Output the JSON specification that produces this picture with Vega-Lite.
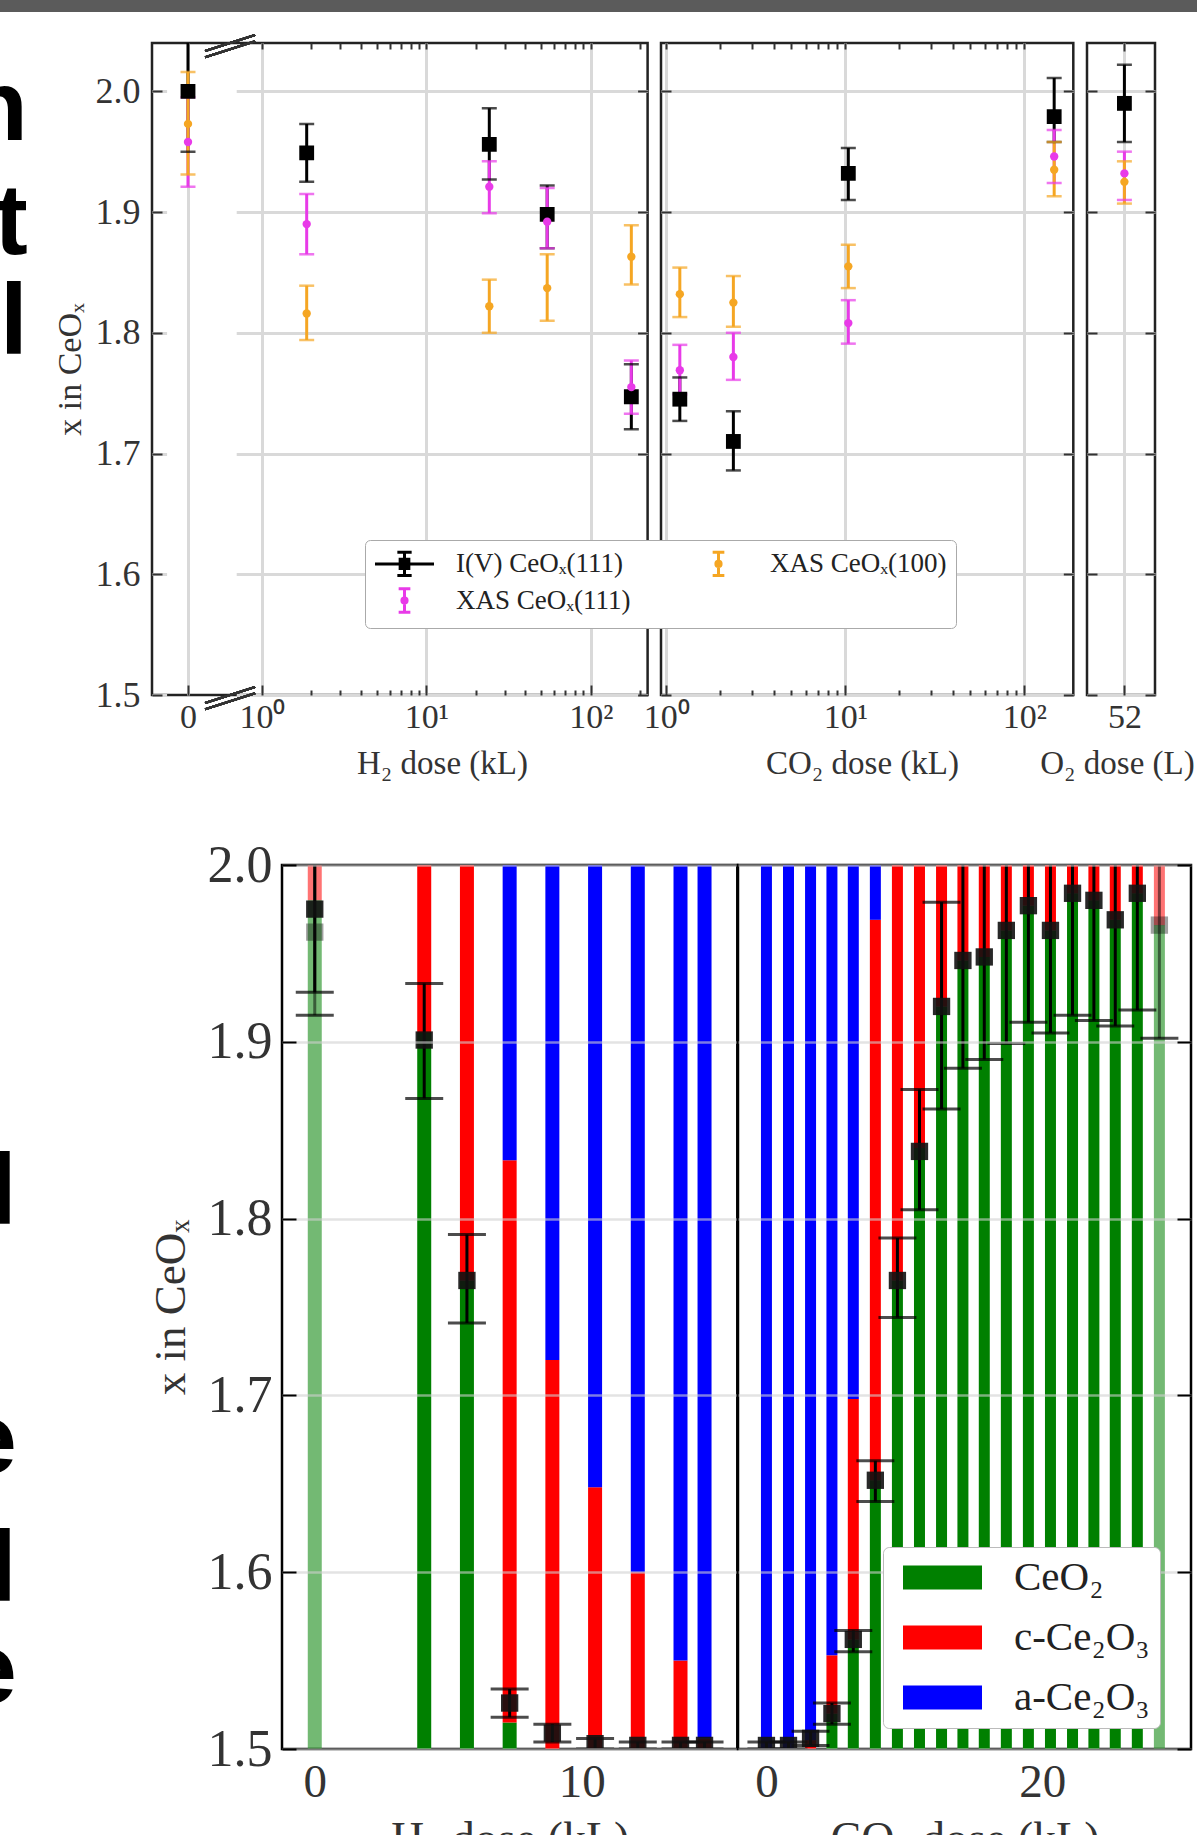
{
  "$schema": "https://vega.github.io/schema/vega-lite/v6.json",
  "background": "white",
  "padding": 0,
  "config": {
    "font": "Liberation Serif",
    "view": {"stroke": "#222222", "strokeWidth": 2.5},
    "axis": {"domain": false, "tickColor": "#333333", "tickWidth": 2, "labelColor": "#333333", "titleColor": "#333333", "titleFontWeight": "normal", "labelFont": "Liberation Serif", "titleFont": "Liberation Serif", "gridColor": "#d9d9d9", "gridWidth": 3},
    "legend": {"labelFont": "Liberation Serif", "labelColor": "#222222", "labelLimit": 400}
  },
  "datasets": {
    "top": [
      {"gas": "H2", "dose": 0, "series": "I(V) CeOₓ(111)", "v": 2.000, "lo": 1.950, "hi": 2.050},
      {"gas": "H2", "dose": 0, "series": "XAS CeOₓ(111)", "v": 1.958, "lo": 1.921, "hi": 1.995},
      {"gas": "H2", "dose": 0, "series": "XAS CeOₓ(100)", "v": 1.973, "lo": 1.931, "hi": 2.016},
      {"gas": "H2", "dose": 1.87, "series": "I(V) CeOₓ(111)", "v": 1.949, "lo": 1.925, "hi": 1.973},
      {"gas": "H2", "dose": 1.87, "series": "XAS CeOₓ(111)", "v": 1.890, "lo": 1.865, "hi": 1.915},
      {"gas": "H2", "dose": 1.87, "series": "XAS CeOₓ(100)", "v": 1.816, "lo": 1.794, "hi": 1.839},
      {"gas": "H2", "dose": 24.1, "series": "I(V) CeOₓ(111)", "v": 1.956, "lo": 1.927, "hi": 1.986},
      {"gas": "H2", "dose": 24.1, "series": "XAS CeOₓ(111)", "v": 1.921, "lo": 1.899, "hi": 1.942},
      {"gas": "H2", "dose": 24.1, "series": "XAS CeOₓ(100)", "v": 1.822, "lo": 1.800, "hi": 1.844},
      {"gas": "H2", "dose": 54.2, "series": "I(V) CeOₓ(111)", "v": 1.898, "lo": 1.870, "hi": 1.922},
      {"gas": "H2", "dose": 54.2, "series": "XAS CeOₓ(111)", "v": 1.892, "lo": 1.870, "hi": 1.920},
      {"gas": "H2", "dose": 54.2, "series": "XAS CeOₓ(100)", "v": 1.837, "lo": 1.810, "hi": 1.865},
      {"gas": "H2", "dose": 176, "series": "I(V) CeOₓ(111)", "v": 1.747, "lo": 1.720, "hi": 1.774},
      {"gas": "H2", "dose": 176, "series": "XAS CeOₓ(111)", "v": 1.755, "lo": 1.733, "hi": 1.777},
      {"gas": "H2", "dose": 176, "series": "XAS CeOₓ(100)", "v": 1.863, "lo": 1.840, "hi": 1.889},
      {"gas": "CO2", "dose": 1.19, "series": "I(V) CeOₓ(111)", "v": 1.745, "lo": 1.727, "hi": 1.763},
      {"gas": "CO2", "dose": 1.19, "series": "XAS CeOₓ(111)", "v": 1.769, "lo": 1.749, "hi": 1.790},
      {"gas": "CO2", "dose": 1.19, "series": "XAS CeOₓ(100)", "v": 1.832, "lo": 1.813, "hi": 1.854},
      {"gas": "CO2", "dose": 2.37, "series": "I(V) CeOₓ(111)", "v": 1.710, "lo": 1.686, "hi": 1.735},
      {"gas": "CO2", "dose": 2.37, "series": "XAS CeOₓ(111)", "v": 1.780, "lo": 1.761, "hi": 1.800},
      {"gas": "CO2", "dose": 2.37, "series": "XAS CeOₓ(100)", "v": 1.825, "lo": 1.805, "hi": 1.847},
      {"gas": "CO2", "dose": 10.4, "series": "I(V) CeOₓ(111)", "v": 1.932, "lo": 1.910, "hi": 1.953},
      {"gas": "CO2", "dose": 10.4, "series": "XAS CeOₓ(111)", "v": 1.808, "lo": 1.791, "hi": 1.827},
      {"gas": "CO2", "dose": 10.4, "series": "XAS CeOₓ(100)", "v": 1.855, "lo": 1.837, "hi": 1.873},
      {"gas": "CO2", "dose": 147, "series": "I(V) CeOₓ(111)", "v": 1.979, "lo": 1.958, "hi": 2.011},
      {"gas": "CO2", "dose": 147, "series": "XAS CeOₓ(111)", "v": 1.946, "lo": 1.924, "hi": 1.968},
      {"gas": "CO2", "dose": 147, "series": "XAS CeOₓ(100)", "v": 1.935, "lo": 1.913, "hi": 1.958},
      {"gas": "O2", "dose": 52, "series": "I(V) CeOₓ(111)", "v": 1.990, "lo": 1.958, "hi": 2.022},
      {"gas": "O2", "dose": 52, "series": "XAS CeOₓ(111)", "v": 1.932, "lo": 1.910, "hi": 1.950},
      {"gas": "O2", "dose": 52, "series": "XAS CeOₓ(100)", "v": 1.925, "lo": 1.907, "hi": 1.942}
    ],
    "bars": [
      {"gas": "H2", "dose": 0, "phase": "CeO₂", "lo": 1.5, "hi": 1.98, "ref": true},
      {"gas": "H2", "dose": 0, "phase": "c-Ce₂O₃", "lo": 1.98, "hi": 2.0, "ref": true},
      {"gas": "H2", "dose": 4.1, "phase": "CeO₂", "lo": 1.5, "hi": 1.905, "ref": false},
      {"gas": "H2", "dose": 4.1, "phase": "c-Ce₂O₃", "lo": 1.905, "hi": 2.0, "ref": false},
      {"gas": "H2", "dose": 5.7, "phase": "CeO₂", "lo": 1.5, "hi": 1.765, "ref": false},
      {"gas": "H2", "dose": 5.7, "phase": "c-Ce₂O₃", "lo": 1.765, "hi": 2.0, "ref": false},
      {"gas": "H2", "dose": 7.3, "phase": "CeO₂", "lo": 1.5, "hi": 1.515, "ref": false},
      {"gas": "H2", "dose": 7.3, "phase": "c-Ce₂O₃", "lo": 1.515, "hi": 1.833, "ref": false},
      {"gas": "H2", "dose": 7.3, "phase": "a-Ce₂O₃", "lo": 1.833, "hi": 2.0, "ref": false},
      {"gas": "H2", "dose": 8.9, "phase": "c-Ce₂O₃", "lo": 1.5, "hi": 1.72, "ref": false},
      {"gas": "H2", "dose": 8.9, "phase": "a-Ce₂O₃", "lo": 1.72, "hi": 2.0, "ref": false},
      {"gas": "H2", "dose": 10.5, "phase": "c-Ce₂O₃", "lo": 1.5, "hi": 1.648, "ref": false},
      {"gas": "H2", "dose": 10.5, "phase": "a-Ce₂O₃", "lo": 1.648, "hi": 2.0, "ref": false},
      {"gas": "H2", "dose": 12.1, "phase": "c-Ce₂O₃", "lo": 1.5, "hi": 1.6, "ref": false},
      {"gas": "H2", "dose": 12.1, "phase": "a-Ce₂O₃", "lo": 1.6, "hi": 2.0, "ref": false},
      {"gas": "H2", "dose": 13.7, "phase": "c-Ce₂O₃", "lo": 1.5, "hi": 1.55, "ref": false},
      {"gas": "H2", "dose": 13.7, "phase": "a-Ce₂O₃", "lo": 1.55, "hi": 2.0, "ref": false},
      {"gas": "H2", "dose": 14.6, "phase": "c-Ce₂O₃", "lo": 1.5, "hi": 1.506, "ref": false},
      {"gas": "H2", "dose": 14.6, "phase": "a-Ce₂O₃", "lo": 1.506, "hi": 2.0, "ref": false},
      {"gas": "CO2", "dose": 0, "phase": "a-Ce₂O₃", "lo": 1.5, "hi": 2.0, "ref": false},
      {"gas": "CO2", "dose": 1.6, "phase": "a-Ce₂O₃", "lo": 1.5, "hi": 2.0, "ref": false},
      {"gas": "CO2", "dose": 3.2, "phase": "c-Ce₂O₃", "lo": 1.5, "hi": 1.505, "ref": false},
      {"gas": "CO2", "dose": 3.2, "phase": "a-Ce₂O₃", "lo": 1.505, "hi": 2.0, "ref": false},
      {"gas": "CO2", "dose": 4.75, "phase": "CeO₂", "lo": 1.5, "hi": 1.52, "ref": false},
      {"gas": "CO2", "dose": 4.75, "phase": "c-Ce₂O₃", "lo": 1.52, "hi": 1.553, "ref": false},
      {"gas": "CO2", "dose": 4.75, "phase": "a-Ce₂O₃", "lo": 1.553, "hi": 2.0, "ref": false},
      {"gas": "CO2", "dose": 6.3, "phase": "CeO₂", "lo": 1.5, "hi": 1.562, "ref": false},
      {"gas": "CO2", "dose": 6.3, "phase": "c-Ce₂O₃", "lo": 1.562, "hi": 1.698, "ref": false},
      {"gas": "CO2", "dose": 6.3, "phase": "a-Ce₂O₃", "lo": 1.698, "hi": 2.0, "ref": false},
      {"gas": "CO2", "dose": 7.9, "phase": "CeO₂", "lo": 1.5, "hi": 1.652, "ref": false},
      {"gas": "CO2", "dose": 7.9, "phase": "c-Ce₂O₃", "lo": 1.652, "hi": 1.969, "ref": false},
      {"gas": "CO2", "dose": 7.9, "phase": "a-Ce₂O₃", "lo": 1.969, "hi": 2.0, "ref": false},
      {"gas": "CO2", "dose": 9.5, "phase": "CeO₂", "lo": 1.5, "hi": 1.765, "ref": false},
      {"gas": "CO2", "dose": 9.5, "phase": "c-Ce₂O₃", "lo": 1.765, "hi": 2.0, "ref": false},
      {"gas": "CO2", "dose": 11.1, "phase": "CeO₂", "lo": 1.5, "hi": 1.84, "ref": false},
      {"gas": "CO2", "dose": 11.1, "phase": "c-Ce₂O₃", "lo": 1.84, "hi": 2.0, "ref": false},
      {"gas": "CO2", "dose": 12.7, "phase": "CeO₂", "lo": 1.5, "hi": 1.92, "ref": false},
      {"gas": "CO2", "dose": 12.7, "phase": "c-Ce₂O₃", "lo": 1.92, "hi": 2.0, "ref": false},
      {"gas": "CO2", "dose": 14.25, "phase": "CeO₂", "lo": 1.5, "hi": 1.946, "ref": false},
      {"gas": "CO2", "dose": 14.25, "phase": "c-Ce₂O₃", "lo": 1.946, "hi": 2.0, "ref": false},
      {"gas": "CO2", "dose": 15.8, "phase": "CeO₂", "lo": 1.5, "hi": 1.948, "ref": false},
      {"gas": "CO2", "dose": 15.8, "phase": "c-Ce₂O₃", "lo": 1.948, "hi": 2.0, "ref": false},
      {"gas": "CO2", "dose": 17.4, "phase": "CeO₂", "lo": 1.5, "hi": 1.963, "ref": false},
      {"gas": "CO2", "dose": 17.4, "phase": "c-Ce₂O₃", "lo": 1.963, "hi": 2.0, "ref": false},
      {"gas": "CO2", "dose": 19.0, "phase": "CeO₂", "lo": 1.5, "hi": 1.977, "ref": false},
      {"gas": "CO2", "dose": 19.0, "phase": "c-Ce₂O₃", "lo": 1.977, "hi": 2.0, "ref": false},
      {"gas": "CO2", "dose": 20.6, "phase": "CeO₂", "lo": 1.5, "hi": 1.963, "ref": false},
      {"gas": "CO2", "dose": 20.6, "phase": "c-Ce₂O₃", "lo": 1.963, "hi": 2.0, "ref": false},
      {"gas": "CO2", "dose": 22.2, "phase": "CeO₂", "lo": 1.5, "hi": 1.984, "ref": false},
      {"gas": "CO2", "dose": 22.2, "phase": "c-Ce₂O₃", "lo": 1.984, "hi": 2.0, "ref": false},
      {"gas": "CO2", "dose": 23.75, "phase": "CeO₂", "lo": 1.5, "hi": 1.98, "ref": false},
      {"gas": "CO2", "dose": 23.75, "phase": "c-Ce₂O₃", "lo": 1.98, "hi": 2.0, "ref": false},
      {"gas": "CO2", "dose": 25.3, "phase": "CeO₂", "lo": 1.5, "hi": 1.969, "ref": false},
      {"gas": "CO2", "dose": 25.3, "phase": "c-Ce₂O₃", "lo": 1.969, "hi": 2.0, "ref": false},
      {"gas": "CO2", "dose": 26.9, "phase": "CeO₂", "lo": 1.5, "hi": 1.984, "ref": false},
      {"gas": "CO2", "dose": 26.9, "phase": "c-Ce₂O₃", "lo": 1.984, "hi": 2.0, "ref": false},
      {"gas": "CO2", "dose": 28.5, "phase": "CeO₂", "lo": 1.5, "hi": 1.966, "ref": true},
      {"gas": "CO2", "dose": 28.5, "phase": "c-Ce₂O₃", "lo": 1.966, "hi": 2.0, "ref": true}
    ],
    "pts": [
      {"gas": "H2", "dose": 0, "v": 1.962, "lo": 1.915, "hi": 2.01, "ref": true},
      {"gas": "H2", "dose": 0, "v": 1.975, "lo": 1.928, "hi": 2.02, "ref": false},
      {"gas": "H2", "dose": 4.1, "v": 1.901, "lo": 1.868, "hi": 1.933, "ref": false},
      {"gas": "H2", "dose": 5.7, "v": 1.765, "lo": 1.741, "hi": 1.791, "ref": false},
      {"gas": "H2", "dose": 7.3, "v": 1.526, "lo": 1.518, "hi": 1.534, "ref": false},
      {"gas": "H2", "dose": 8.9, "v": 1.509, "lo": 1.504, "hi": 1.514, "ref": false},
      {"gas": "H2", "dose": 10.5, "v": 1.503, "lo": 1.500, "hi": 1.506, "ref": false},
      {"gas": "H2", "dose": 12.1, "v": 1.502, "lo": 1.500, "hi": 1.504, "ref": false},
      {"gas": "H2", "dose": 13.7, "v": 1.502, "lo": 1.500, "hi": 1.504, "ref": false},
      {"gas": "H2", "dose": 14.6, "v": 1.502, "lo": 1.500, "hi": 1.504, "ref": false},
      {"gas": "CO2", "dose": 0, "v": 1.502, "lo": 1.500, "hi": 1.504, "ref": false},
      {"gas": "CO2", "dose": 1.6, "v": 1.502, "lo": 1.500, "hi": 1.504, "ref": false},
      {"gas": "CO2", "dose": 3.2, "v": 1.506, "lo": 1.502, "hi": 1.510, "ref": false},
      {"gas": "CO2", "dose": 4.75, "v": 1.520, "lo": 1.514, "hi": 1.526, "ref": false},
      {"gas": "CO2", "dose": 6.3, "v": 1.562, "lo": 1.555, "hi": 1.567, "ref": false},
      {"gas": "CO2", "dose": 7.9, "v": 1.652, "lo": 1.640, "hi": 1.663, "ref": false},
      {"gas": "CO2", "dose": 9.5, "v": 1.765, "lo": 1.744, "hi": 1.789, "ref": false},
      {"gas": "CO2", "dose": 11.1, "v": 1.838, "lo": 1.805, "hi": 1.873, "ref": false},
      {"gas": "CO2", "dose": 12.7, "v": 1.920, "lo": 1.862, "hi": 1.979, "ref": false},
      {"gas": "CO2", "dose": 14.25, "v": 1.946, "lo": 1.885, "hi": 2.01, "ref": false},
      {"gas": "CO2", "dose": 15.8, "v": 1.948, "lo": 1.890, "hi": 2.01, "ref": false},
      {"gas": "CO2", "dose": 17.4, "v": 1.963, "lo": 1.899, "hi": 2.03, "ref": false},
      {"gas": "CO2", "dose": 19.0, "v": 1.977, "lo": 1.911, "hi": 2.04, "ref": false},
      {"gas": "CO2", "dose": 20.6, "v": 1.963, "lo": 1.905, "hi": 2.02, "ref": false},
      {"gas": "CO2", "dose": 22.2, "v": 1.984, "lo": 1.915, "hi": 2.05, "ref": false},
      {"gas": "CO2", "dose": 23.75, "v": 1.980, "lo": 1.912, "hi": 2.05, "ref": false},
      {"gas": "CO2", "dose": 25.3, "v": 1.969, "lo": 1.909, "hi": 2.03, "ref": false},
      {"gas": "CO2", "dose": 26.9, "v": 1.984, "lo": 1.918, "hi": 2.05, "ref": false},
      {"gas": "CO2", "dose": 28.5, "v": 1.966, "lo": 1.902, "hi": 2.03, "ref": true}
    ],
    "glyphTop": [
      {"ch": "n", "line": 1},
      {"ch": "t", "line": 2.09},
      {"ch": "l", "line": 3.05}
    ],
    "glyphBot": [
      {"ch": "l", "line": 1.06},
      {"ch": "e", "line": 3},
      {"ch": "l", "line": 4},
      {"ch": "e", "line": 4.79}
    ]
  },
  "spacing": 17,
  "vconcat": [
    {
      "width": 1197, "height": 12,
      "view": {"fill": "#5b5b5b", "stroke": null},
      "data": {"values": [{}]},
      "mark": {"type": "point", "opacity": 0}
    },
    {
      "bounds": "flush",
      "spacing": 13,
      "hconcat": [
        {
          "width": 138.7, "height": 652,
          "view": {"stroke": null},
          "data": {"name": "glyphTop"},
          "mark": {"type": "text", "font": "Liberation Sans", "fontWeight": "bold", "fontSize": 100, "align": "right", "baseline": "alphabetic", "clip": true, "color": "#000000"},
          "encoding": {
            "x": {"datum": 0.2, "type": "quantitative", "scale": {"domain": [0, 1], "nice": false, "zero": false}, "axis": null},
            "y": {"field": "line", "type": "quantitative", "scale": {"domain": [0.0718, 6.311], "reverse": true, "nice": false, "zero": false}, "axis": null},
            "text": {"field": "ch"}
          }
        },
        {
          "width": 495.6, "height": 652,
          "data": {"name": "top"},
          "resolve": {"scale": {"x": "independent", "y": "independent"}},
          "layer": [
            {
              "transform": [{"filter": "datum.gas == 'H2' && datum.dose == 0"}],
              "encoding": {"x": {"field": "dose", "type": "quantitative", "scale": {"domain": [-1, 12.77], "nice": false, "zero": false}, "axis": {"orient": "bottom", "values": [0], "format": "d", "title": null, "grid": true, "tickSize": -10, "labelFontSize": 34, "labelPadding": 15}}},
              "layer": [
                {"mark": {"type": "rule", "strokeWidth": 3, "clip": true},
                 "encoding": {"y": {"field": "lo", "type": "quantitative", "scale": {"domain": [1.5, 2.04], "nice": false, "zero": false}, "axis": {"orient": "left", "title": "x in CeOₓ", "values": [1.5, 1.6, 1.7, 1.8, 1.9, 2.0], "format": ".1f", "labelFontSize": 36, "labelPadding": 22, "tickSize": -10, "grid": true, "gridDash": [14.6, 69.6, 1000, 0], "titleFontSize": 34, "titlePadding": 8}},
                   "y2": {"field": "hi"},
                   "color": {"field": "series", "type": "nominal", "scale": {"domain": ["XAS CeOₓ(111)", "XAS CeOₓ(100)", "I(V) CeOₓ(111)"], "range": ["#e83ae8", "#f5a623", "#000000"]}, "legend": null}}},
                {"mark": {"type": "tick", "orient": "horizontal", "size": 15, "thickness": 2.5, "clip": true},
                 "encoding": {"y": {"field": "lo", "type": "quantitative"}, "color": {"field": "series", "type": "nominal", "legend": null}}},
                {"mark": {"type": "tick", "orient": "horizontal", "size": 15, "thickness": 2.5, "clip": true},
                 "encoding": {"y": {"field": "hi", "type": "quantitative"}, "color": {"field": "series", "type": "nominal", "legend": null}}},
                {"transform": [{"filter": "datum.series == 'I(V) CeOₓ(111)'"}],
                 "mark": {"type": "square", "size": 220, "color": "#000000", "opacity": 1, "clip": true},
                 "encoding": {"y": {"field": "v", "type": "quantitative"}}},
                {"transform": [{"filter": "datum.series != 'I(V) CeOₓ(111)'"}],
                 "mark": {"type": "circle", "size": 70, "opacity": 1, "clip": true},
                 "encoding": {"y": {"field": "v", "type": "quantitative"}, "color": {"field": "series", "type": "nominal", "legend": null}}},
                {"mark": {"type": "point", "opacity": 0, "filled": false},
                 "encoding": {
                   "y": {"field": "v", "type": "quantitative"},
                   "stroke": {"field": "series", "type": "nominal", "scale": {"domain": ["I(V) CeOₓ(111)", "XAS CeOₓ(111)", "XAS CeOₓ(100)"], "range": ["#000000", "#e83ae8", "#f5a623"]},
                     "legend": {"orient": "none", "legendX": 365, "legendY": 540, "title": null, "columns": 2, "symbolSize": 676, "symbolStrokeWidth": 3, "symbolOpacity": 1, "labelFontSize": 27, "labelOffset": 37, "symbolOffset": 16, "columnPadding": 57, "rowPadding": 0, "padding": 9, "fillColor": "#ffffff", "strokeColor": "#aaaaaa", "cornerRadius": 5}},
                   "shape": {"field": "series", "type": "nominal", "scale": {"domain": ["I(V) CeOₓ(111)", "XAS CeOₓ(111)", "XAS CeOₓ(100)"], "range": ["M-2.27,0H2.27M0,-0.9V0.9M-0.55,-0.9H0.55M-0.55,0.9H0.55M-0.45,-0.36H0.45M-0.45,-0.12H0.45M-0.45,0.12H0.45M-0.45,0.36H0.45", "M0,-0.9V0.9M-0.45,-0.9H0.45M-0.45,0.9H0.45M-0.2,0A0.2,0.2,0,1,0,0.2,0A0.2,0.2,0,1,0,-0.2,0", "M0,-0.9V0.9M-0.45,-0.9H0.45M-0.45,0.9H0.45M-0.2,0A0.2,0.2,0,1,0,0.2,0A0.2,0.2,0,1,0,-0.2,0"]},
                     "legend": {"orient": "none", "legendX": 365, "legendY": 540, "title": null, "columns": 2, "symbolSize": 676, "symbolStrokeWidth": 3, "symbolOpacity": 1, "labelFontSize": 27, "labelOffset": 37, "symbolOffset": 16, "columnPadding": 57, "rowPadding": 0, "padding": 9, "fillColor": "#ffffff", "strokeColor": "#aaaaaa", "cornerRadius": 5}}
                 }}
              ]
            },
            {
              "transform": [{"filter": "datum.gas == 'H2' && datum.dose > 0"}],
              "encoding": {"x": {"field": "dose", "type": "quantitative", "scale": {"type": "log", "domain": [0.2145, 221], "nice": false}, "axis": {"orient": "bottom", "values": [1, 10, 100], "labelExpr": "datum.value == 1 ? '10⁰' : datum.value == 10 ? '10¹' : '10²'", "title": "H₂ dose (kL)", "titleX": 290, "titleY": 52, "titleBaseline": "top", "titleFontSize": 33, "grid": true, "tickSize": -10, "labelFontSize": 34, "labelPadding": 15}}},
              "layer": [
                {"mark": {"type": "rule", "strokeWidth": 3, "clip": true},
                 "encoding": {"y": {"field": "lo", "type": "quantitative", "scale": {"domain": [1.5, 2.04], "nice": false, "zero": false}, "axis": null}, "y2": {"field": "hi"}, "color": {"field": "series", "type": "nominal", "legend": null}}},
                {"mark": {"type": "tick", "orient": "horizontal", "size": 15, "thickness": 2.5, "clip": true},
                 "encoding": {"y": {"field": "lo", "type": "quantitative", "axis": null}, "color": {"field": "series", "type": "nominal", "legend": null}}},
                {"mark": {"type": "tick", "orient": "horizontal", "size": 15, "thickness": 2.5, "clip": true},
                 "encoding": {"y": {"field": "hi", "type": "quantitative", "axis": null}, "color": {"field": "series", "type": "nominal", "legend": null}}},
                {"transform": [{"filter": "datum.series == 'I(V) CeOₓ(111)'"}],
                 "mark": {"type": "square", "size": 220, "color": "#000000", "opacity": 1, "clip": true},
                 "encoding": {"y": {"field": "v", "type": "quantitative", "axis": null}}},
                {"transform": [{"filter": "datum.series != 'I(V) CeOₓ(111)'"}],
                 "mark": {"type": "circle", "size": 70, "opacity": 1, "clip": true},
                 "encoding": {"y": {"field": "v", "type": "quantitative", "axis": null}, "color": {"field": "series", "type": "nominal", "legend": null}}},
                {"mark": {"type": "point", "shape": "M-1,0.32L1,-0.32M-1,0.57L1,-0.07", "size": 2500, "stroke": "#333333", "strokeWidth": 2, "filled": false, "opacity": 1, "clip": false},
                 "encoding": {"x": {"datum": 0.64, "type": "quantitative"}, "y": {"datum": 1.5, "type": "quantitative", "axis": null}}},
                {"mark": {"type": "point", "shape": "M-1,0.32L1,-0.32M-1,0.57L1,-0.07", "size": 2500, "stroke": "#333333", "strokeWidth": 2, "filled": false, "opacity": 1, "clip": false},
                 "encoding": {"x": {"datum": 0.64, "type": "quantitative"}, "y": {"datum": 2.04, "type": "quantitative", "axis": null}}}
              ]
            },
            {
              "transform": [{"filter": "datum.gas == 'H2' && datum.dose > 0"}],
              "mark": {"type": "point", "opacity": 0},
              "encoding": {
                "x": {"field": "dose", "type": "quantitative", "scale": {"type": "log", "domain": [0.2145, 221], "nice": false}, "axis": {"orient": "bottom", "values": [2, 3, 4, 5, 6, 7, 8, 9, 20, 30, 40, 50, 60, 70, 80, 90, 200], "labels": false, "grid": false, "tickSize": -5, "title": null}},
                "y": {"field": "v", "type": "quantitative", "scale": {"domain": [1.5, 2.04], "nice": false, "zero": false}, "axis": null}
              }
            },
            {
              "transform": [{"filter": "datum.gas == 'H2' && datum.dose > 0"}],
              "mark": {"type": "point", "opacity": 0},
              "encoding": {
                "x": {"field": "dose", "type": "quantitative", "scale": {"type": "log", "domain": [0.2145, 221], "nice": false}, "axis": {"orient": "top", "values": [1, 2, 3, 4, 5, 6, 7, 8, 9, 10, 20, 30, 40, 50, 60, 70, 80, 90, 100, 200], "labels": false, "grid": false, "tickSize": -6, "title": null}},
                "y": {"field": "v", "type": "quantitative", "scale": {"domain": [1.5, 2.04], "nice": false, "zero": false}, "axis": {"orient": "right", "values": [1.5, 1.6, 1.7, 1.8, 1.9, 2.0], "labels": false, "grid": false, "tickSize": -10, "title": null}}
              }
            }
          ]
        },
        {
          "width": 412.3, "height": 652,
          "data": {"name": "top"},
          "resolve": {"scale": {"x": "independent", "y": "independent"}},
          "layer": [
            {
              "transform": [{"filter": "datum.gas == 'CO2'"}],
              "encoding": {"x": {"field": "dose", "type": "quantitative", "scale": {"type": "log", "domain": [0.934, 188], "nice": false}, "axis": {"orient": "bottom", "values": [1, 10, 100], "labelExpr": "datum.value == 1 ? '10⁰' : datum.value == 10 ? '10¹' : '10²'", "title": "CO₂ dose (kL)", "titleX": 201, "titleY": 52, "titleBaseline": "top", "titleFontSize": 33, "grid": true, "tickSize": -10, "labelFontSize": 34, "labelPadding": 15}}},
              "layer": [
                {"mark": {"type": "rule", "strokeWidth": 3, "clip": true},
                 "encoding": {"y": {"field": "lo", "type": "quantitative", "scale": {"domain": [1.5, 2.04], "nice": false, "zero": false}, "axis": {"orient": "left", "values": [1.5, 1.6, 1.7, 1.8, 1.9, 2.0], "labels": false, "tickSize": -10, "grid": true, "title": null}}, "y2": {"field": "hi"}, "color": {"field": "series", "type": "nominal", "legend": null}}},
                {"mark": {"type": "tick", "orient": "horizontal", "size": 15, "thickness": 2.5, "clip": true},
                 "encoding": {"y": {"field": "lo", "type": "quantitative"}, "color": {"field": "series", "type": "nominal", "legend": null}}},
                {"mark": {"type": "tick", "orient": "horizontal", "size": 15, "thickness": 2.5, "clip": true},
                 "encoding": {"y": {"field": "hi", "type": "quantitative"}, "color": {"field": "series", "type": "nominal", "legend": null}}},
                {"transform": [{"filter": "datum.series == 'I(V) CeOₓ(111)'"}],
                 "mark": {"type": "square", "size": 220, "color": "#000000", "opacity": 1, "clip": true},
                 "encoding": {"y": {"field": "v", "type": "quantitative"}}},
                {"transform": [{"filter": "datum.series != 'I(V) CeOₓ(111)'"}],
                 "mark": {"type": "circle", "size": 70, "opacity": 1, "clip": true},
                 "encoding": {"y": {"field": "v", "type": "quantitative"}, "color": {"field": "series", "type": "nominal", "legend": null}}}
              ]
            },
            {
              "transform": [{"filter": "datum.gas == 'CO2'"}],
              "mark": {"type": "point", "opacity": 0},
              "encoding": {
                "x": {"field": "dose", "type": "quantitative", "scale": {"type": "log", "domain": [0.934, 188], "nice": false}, "axis": {"orient": "bottom", "values": [2, 3, 4, 5, 6, 7, 8, 9, 20, 30, 40, 50, 60, 70, 80, 90], "labels": false, "grid": false, "tickSize": -5, "title": null}},
                "y": {"field": "v", "type": "quantitative", "scale": {"domain": [1.5, 2.04], "nice": false, "zero": false}, "axis": null}
              }
            },
            {
              "transform": [{"filter": "datum.gas == 'CO2'"}],
              "mark": {"type": "point", "opacity": 0},
              "encoding": {
                "x": {"field": "dose", "type": "quantitative", "scale": {"type": "log", "domain": [0.934, 188], "nice": false}, "axis": {"orient": "top", "values": [1, 2, 3, 4, 5, 6, 7, 8, 9, 10, 20, 30, 40, 50, 60, 70, 80, 90, 100], "labels": false, "grid": false, "tickSize": -6, "title": null}},
                "y": {"field": "v", "type": "quantitative", "scale": {"domain": [1.5, 2.04], "nice": false, "zero": false}, "axis": {"orient": "right", "values": [1.5, 1.6, 1.7, 1.8, 1.9, 2.0], "labels": false, "grid": false, "tickSize": -10, "title": null}}
              }
            }
          ]
        },
        {
          "width": 68, "height": 652,
          "data": {"name": "top"},
          "resolve": {"scale": {"x": "independent", "y": "independent"}},
          "layer": [
            {
              "transform": [{"filter": "datum.gas == 'O2'"}],
              "encoding": {"x": {"field": "dose", "type": "quantitative", "scale": {"domain": [50.9, 52.9], "nice": false, "zero": false}, "axis": {"orient": "bottom", "values": [52], "format": "d", "title": "O₂ dose (L)", "titleX": 30, "titleY": 52, "titleBaseline": "top", "titleFontSize": 33, "grid": true, "tickSize": -10, "labelFontSize": 34, "labelPadding": 15}}},
              "layer": [
                {"mark": {"type": "rule", "strokeWidth": 3, "clip": true},
                 "encoding": {"y": {"field": "lo", "type": "quantitative", "scale": {"domain": [1.5, 2.04], "nice": false, "zero": false}, "axis": {"orient": "left", "values": [1.5, 1.6, 1.7, 1.8, 1.9, 2.0], "labels": false, "tickSize": -10, "grid": true, "title": null}}, "y2": {"field": "hi"}, "color": {"field": "series", "type": "nominal", "legend": null}}},
                {"mark": {"type": "tick", "orient": "horizontal", "size": 15, "thickness": 2.5, "clip": true},
                 "encoding": {"y": {"field": "lo", "type": "quantitative"}, "color": {"field": "series", "type": "nominal", "legend": null}}},
                {"mark": {"type": "tick", "orient": "horizontal", "size": 15, "thickness": 2.5, "clip": true},
                 "encoding": {"y": {"field": "hi", "type": "quantitative"}, "color": {"field": "series", "type": "nominal", "legend": null}}},
                {"transform": [{"filter": "datum.series == 'I(V) CeOₓ(111)'"}],
                 "mark": {"type": "square", "size": 220, "color": "#000000", "opacity": 1, "clip": true},
                 "encoding": {"y": {"field": "v", "type": "quantitative"}}},
                {"transform": [{"filter": "datum.series != 'I(V) CeOₓ(111)'"}],
                 "mark": {"type": "circle", "size": 70, "opacity": 1, "clip": true},
                 "encoding": {"y": {"field": "v", "type": "quantitative"}, "color": {"field": "series", "type": "nominal", "legend": null}}}
              ]
            },
            {
              "transform": [{"filter": "datum.gas == 'O2'"}],
              "mark": {"type": "point", "opacity": 0},
              "encoding": {
                "x": {"field": "dose", "type": "quantitative", "scale": {"domain": [50.9, 52.9], "nice": false, "zero": false}, "axis": {"orient": "top", "values": [52], "labels": false, "grid": false, "tickSize": -8, "title": null}},
                "y": {"field": "v", "type": "quantitative", "scale": {"domain": [1.5, 2.04], "nice": false, "zero": false}, "axis": {"orient": "right", "values": [1.5, 1.6, 1.7, 1.8, 1.9, 2.0], "labels": false, "grid": false, "tickSize": -10, "title": null}}
              }
            }
          ]
        }
      ]
    },
    {
      "bounds": "flush",
      "spacing": 0,
      "hconcat": [
        {
          "width": 281.7, "height": 884,
          "view": {"stroke": null},
          "title": {"text": ".", "color": "#ffffff", "fontSize": 14, "offset": 52},
          "data": {"name": "glyphBot"},
          "mark": {"type": "text", "font": "Liberation Sans", "fontWeight": "bold", "fontSize": 100, "align": "right", "baseline": "alphabetic", "clip": true, "color": "#000000"},
          "encoding": {
            "x": {"datum": 0.06, "type": "quantitative", "scale": {"domain": [0, 1], "nice": false, "zero": false}, "axis": null},
            "y": {"field": "line", "type": "quantitative", "scale": {"domain": [-1.7315, 5.148], "reverse": true, "nice": false, "zero": false}, "axis": null},
            "text": {"field": "ch"}
          }
        },
        {
          "width": 455.3, "height": 884,
          "view": {"stroke": "#000000", "strokeWidth": 2.5},
          "encoding": {"x": {"field": "dose", "type": "quantitative", "scale": {"domain": [-1.04, 15.64], "nice": false, "zero": false}, "axis": {"values": [0, 10], "format": "d", "ticks": false, "grid": false, "labelFontSize": 47, "labelPadding": 10, "title": "H₂ dose (kL)", "titleFontSize": 46, "titlePadding": 12}}},
          "layer": [
            {"data": {"name": "bars"}, "transform": [{"filter": "datum.gas == 'H2'"}],
             "mark": {"type": "bar", "size": 14, "clip": true},
             "encoding": {
               "y": {"field": "lo", "type": "quantitative", "stack": null, "scale": {"domain": [1.5, 2.0], "nice": false, "zero": false}, "axis": {"orient": "left", "values": [1.5, 1.6, 1.7, 1.8, 1.9, 2.0], "format": ".1f", "labelFontSize": 52, "labelPadding": 24, "tickSize": -14, "tickColor": "#000000", "grid": true, "gridColor": "#d0d0d0", "gridOpacity": 0.6, "gridWidth": 2.5, "zindex": 1, "title": "x in CeOₓ", "titleFontSize": 45, "titlePadding": 14}},
               "y2": {"field": "hi"},
               "fill": {"field": "phase", "type": "nominal", "scale": {"domain": ["CeO₂", "c-Ce₂O₃", "a-Ce₂O₃"], "range": ["#008000", "#ff0000", "#0000ff"]},
                 "legend": {"orient": "none", "legendX": 883, "legendY": 1547, "title": null, "symbolType": "M-1.975,-0.6H1.975V0.6H-1.975Z", "symbolSize": 1600, "symbolStrokeWidth": 0, "labelFontSize": 41, "labelOffset": 51, "symbolOffset": 29, "rowPadding": 18, "padding": 10, "fillColor": "#ffffff", "strokeColor": "#bbbbbb", "cornerRadius": 6}},
               "opacity": {"condition": {"test": "datum.ref", "value": 0.55}, "value": 1}
             }},
            {"data": {"name": "pts"}, "transform": [{"filter": "datum.gas == 'H2'"}],
             "mark": {"type": "rule", "strokeWidth": 3, "color": "#000000", "clip": true},
             "encoding": {"y": {"field": "lo", "type": "quantitative"}, "y2": {"field": "hi"}, "opacity": {"condition": {"test": "datum.ref", "value": 0.5}, "value": 1}}},
            {"data": {"name": "pts"}, "transform": [{"filter": "datum.gas == 'H2'"}],
             "mark": {"type": "tick", "orient": "horizontal", "size": 38, "thickness": 3, "color": "#000000", "clip": true},
             "encoding": {"y": {"field": "lo", "type": "quantitative"}}},
            {"data": {"name": "pts"}, "transform": [{"filter": "datum.gas == 'H2'"}],
             "mark": {"type": "tick", "orient": "horizontal", "size": 38, "thickness": 3, "color": "#000000", "clip": true},
             "encoding": {"y": {"field": "hi", "type": "quantitative"}}},
            {"data": {"name": "pts"}, "transform": [{"filter": "datum.gas == 'H2'"}],
             "mark": {"type": "square", "size": 300, "color": "#111111", "clip": true},
             "encoding": {"y": {"field": "v", "type": "quantitative"}, "opacity": {"condition": {"test": "datum.ref", "value": 0.4}, "value": 0.9}}}
          ]
        },
        {
          "width": 453, "height": 884,
          "view": {"stroke": "#000000", "strokeWidth": 2.5},
          "encoding": {"x": {"field": "dose", "type": "quantitative", "scale": {"domain": [-1.7, 30.43], "nice": false, "zero": false}, "axis": {"values": [0, 20], "format": "d", "ticks": false, "grid": false, "labelFontSize": 47, "labelPadding": 10, "title": "CO₂ dose (kL)", "titleFontSize": 46, "titlePadding": 12}}},
          "layer": [
            {"data": {"name": "bars"}, "transform": [{"filter": "datum.gas == 'CO2'"}],
             "mark": {"type": "bar", "size": 11, "clip": true},
             "encoding": {
               "y": {"field": "lo", "type": "quantitative", "stack": null, "scale": {"domain": [1.5, 2.0], "nice": false, "zero": false}, "axis": {"orient": "right", "values": [1.5, 1.6, 1.7, 1.8, 1.9, 2.0], "labels": false, "tickSize": -14, "tickColor": "#000000", "grid": true, "gridColor": "#d0d0d0", "gridOpacity": 0.6, "gridWidth": 2.5, "zindex": 1, "title": null}},
               "y2": {"field": "hi"},
               "fill": {"field": "phase", "type": "nominal", "scale": {"domain": ["CeO₂", "c-Ce₂O₃", "a-Ce₂O₃"], "range": ["#008000", "#ff0000", "#0000ff"]}, "legend": null},
               "opacity": {"condition": {"test": "datum.ref", "value": 0.55}, "value": 1}
             }},
            {"data": {"name": "pts"}, "transform": [{"filter": "datum.gas == 'CO2'"}],
             "mark": {"type": "rule", "strokeWidth": 3, "color": "#000000", "clip": true},
             "encoding": {"y": {"field": "lo", "type": "quantitative"}, "y2": {"field": "hi"}, "opacity": {"condition": {"test": "datum.ref", "value": 0.5}, "value": 1}}},
            {"data": {"name": "pts"}, "transform": [{"filter": "datum.gas == 'CO2'"}],
             "mark": {"type": "tick", "orient": "horizontal", "size": 38, "thickness": 3, "color": "#000000", "clip": true},
             "encoding": {"y": {"field": "lo", "type": "quantitative"}}},
            {"data": {"name": "pts"}, "transform": [{"filter": "datum.gas == 'CO2'"}],
             "mark": {"type": "tick", "orient": "horizontal", "size": 38, "thickness": 3, "color": "#000000", "clip": true},
             "encoding": {"y": {"field": "hi", "type": "quantitative"}}},
            {"data": {"name": "pts"}, "transform": [{"filter": "datum.gas == 'CO2'"}],
             "mark": {"type": "square", "size": 300, "color": "#111111", "clip": true},
             "encoding": {"y": {"field": "v", "type": "quantitative"}, "opacity": {"condition": {"test": "datum.ref", "value": 0.4}, "value": 0.9}}}
          ]
        }
      ]
    }
  ]
}
